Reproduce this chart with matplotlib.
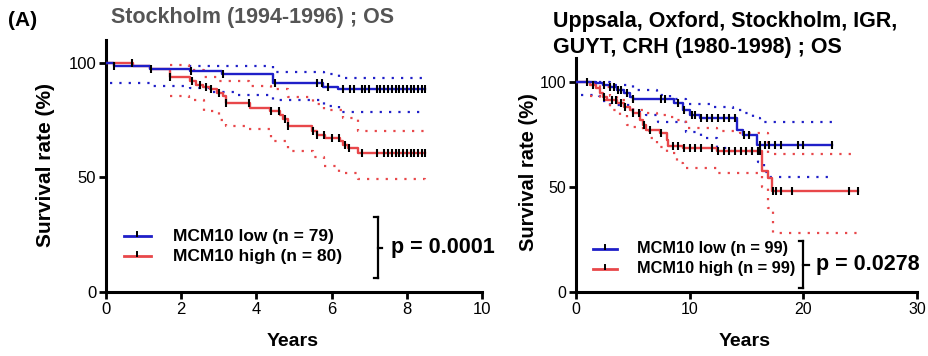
import numpy as np
import matplotlib
matplotlib.use("Agg")
import matplotlib.pyplot as plt
from matplotlib.lines import Line2D

plt.rcParams['font.family'] = ['Liberation Sans', 'DejaVu Sans']

# ---------------- Panel A: Stockholm (1994-1996) ----------------
A_low_t = [0, 0.2, 1.17, 2.23, 3.08, 4.45, 5.78, 6.18, 8.48]
A_low_s = [100, 98.7, 97.5, 96.3, 95.0, 91.3, 89.5, 88.4, 88.4]
A_high_t = [0, 0.73, 1.17, 1.7, 2.23, 2.4, 2.58, 2.77, 2.94, 3.12, 3.2, 3.83, 4.36,
            4.62, 4.72, 4.85, 5.47, 5.6, 5.82, 6.22, 6.3, 6.44, 6.7, 8.48]
A_high_s = [100, 98.7, 97.5, 93.7, 92.0, 90.5, 89.5, 88.4, 86.9, 85.4, 82.5, 80.3, 78.9,
            77.4, 75.3, 72.6, 70.2, 68.7, 67.2, 65.8, 64.3, 62.9, 60.7, 60.7]
A_low_up_t = [2.2, 4.45, 5.8, 6.2, 8.48]
A_low_up_s = [98.5, 96.0, 95.0, 93.6, 93.6]
A_low_lo_t = [0.1, 1.17, 2.23, 2.8, 3.5, 4.45, 5.8, 6.2, 8.48]
A_low_lo_s = [91.3, 90.1, 89.0, 87.5, 86.0, 84.0, 81.4, 78.5, 78.5]
A_high_up_t = [1.7, 2.2, 2.6, 3.0, 3.8, 4.4, 4.85, 5.5, 5.8, 6.3, 6.7, 8.48]
A_high_up_s = [99.0, 97.0, 94.0, 92.0, 90.0, 88.5, 85.0, 82.0, 79.5, 76.0, 70.3, 70.3]
A_high_lo_t = [1.7, 2.2, 2.6, 3.0, 3.2, 3.8, 4.4, 4.85, 5.5, 5.8, 6.2, 6.7, 8.48]
A_high_lo_s = [85.4, 84.0, 79.0, 75.0, 72.6, 71.0, 66.0, 61.4, 59.0, 55.0, 52.0, 49.3, 47.9]
A_low_cens = [0.2, 1.2, 2.25, 3.1, 4.5, 5.6, 5.75, 5.9, 6.3, 6.5, 6.6, 6.8, 6.9, 7.0,
              7.2, 7.3, 7.4, 7.5, 7.6, 7.7, 7.8, 7.9, 8.0, 8.1, 8.2, 8.3, 8.4, 8.48]
A_high_cens = [0.7, 1.7, 2.3, 2.5, 2.65, 2.8, 3.0, 3.2, 3.8, 4.4, 4.6, 4.75, 4.85, 5.5,
               5.6, 5.8, 6.0, 6.2, 6.35, 6.45, 6.8, 7.2, 7.4, 7.5, 7.6, 7.7, 7.8, 7.9,
               8.0, 8.1, 8.2, 8.3, 8.4, 8.48]

# ---------------- Panel B: pooled cohorts (1980-1998) ----------------
B_low_t = [0, 0.9, 1.8, 2.4, 3.0, 3.6, 4.2, 4.75, 5.0, 8.6, 9.45, 10.0, 10.9, 14.2, 14.7, 15.9, 22.5]
B_low_s = [100, 99.7, 99.2, 98.4, 97.3, 96.0, 94.5, 92.9, 91.6, 89.7, 86.5, 84.2, 82.6, 77.0, 74.7, 69.9, 69.9]
B_high_t = [0, 1.2, 1.8, 2.1, 2.4, 2.7, 3.6, 4.2, 4.75, 5.0, 5.6, 5.9, 6.2, 7.4, 8.0, 8.1,
            9.45, 12.4, 16.4, 16.9, 17.2, 24.8]
B_high_s = [100, 98.4, 96.8, 94.5, 92.9, 91.3, 89.7, 88.1, 86.5, 85.0, 81.8, 79.4, 77.0, 75.5,
            72.3, 69.6, 68.4, 66.8, 57.5, 54.0, 48.1, 48.1]
B_low_up_t = [2.0, 3.0, 5.0, 7.1, 8.3, 9.7, 12.1, 13.8, 14.7, 15.6, 16.2, 22.5]
B_low_up_s = [100, 98.4, 96.0, 93.7, 91.6, 89.2, 88.0, 86.6, 85.0, 82.6, 81.0, 81.0]
B_low_lo_t = [0.4, 2.0, 2.3, 3.0, 5.0, 6.2, 7.2, 9.7, 11.0, 12.4, 13.6, 15.6, 16.0, 16.5, 16.9, 22.5]
B_low_lo_s = [93.5, 93.0, 91.0, 89.0, 85.5, 84.0, 81.0, 76.0, 73.0, 68.5, 67.0, 67.0, 62.0, 57.0, 54.8, 54.8]
B_high_up_t = [1.5, 2.1, 3.0, 3.6, 5.0, 5.9, 7.1, 8.0, 8.6, 9.7, 12.4, 14.4, 16.5, 16.9, 24.8]
B_high_up_s = [99.2, 97.6, 93.0, 91.3, 86.5, 85.0, 84.2, 83.4, 81.8, 77.8, 76.3, 75.5, 75.5, 65.7, 65.7]
B_high_lo_t = [1.2, 2.1, 3.0, 3.9, 4.5, 5.0, 5.9, 6.5, 7.1, 8.0, 8.9, 9.45, 12.4, 16.4, 16.9, 17.3, 24.8]
B_high_lo_s = [93.0, 91.3, 86.5, 84.2, 79.4, 78.6, 76.3, 73.0, 69.0, 66.0, 61.4, 59.0, 56.5, 50.0, 40.0, 28.0, 28.0]
B_low_cens = [1.0, 2.5, 3.0, 3.3, 3.7, 4.0, 4.5, 5.0, 7.5, 7.8, 9.0, 9.5, 10.2, 10.5, 11.0,
              11.5, 12.0, 12.5, 13.0, 13.5, 14.0, 14.8, 15.2, 16.2, 16.6, 17.0, 17.5, 18.0,
              19.5, 20.0, 22.5]
B_high_cens = [1.5, 2.5, 3.2, 3.5, 4.0, 4.3, 5.0, 5.5, 6.0, 6.5, 7.5, 8.5, 9.0, 9.5, 10.0,
               10.5, 11.0, 12.0, 12.5, 13.0, 13.5, 14.0, 14.5, 15.0, 15.5, 16.0, 16.2, 17.3,
               17.6, 18.0, 19.0, 24.0, 24.8]

A_labels = ["MCM10 low (n = 79)", "MCM10 high (n = 80)"]
B_labels = ["MCM10 low (n = 99)", "MCM10 high (n = 99)"]
A_p = "p = 0.0001"
B_p = "p = 0.0278"

BLUE = "#1f1fc8"
RED = "#e8474a"
W, H = 929, 356

fig = plt.figure(figsize=(W / 100, H / 100), dpi=100)


def px_ax(x0, y0, x1, y1):
    return [x0 / W, 1 - y1 / H, (x1 - x0) / W, (y1 - y0) / H]


def step_val(t, s, x):
    idx = np.searchsorted(np.asarray(t), x, side='right') - 1
    idx = np.clip(idx, 0, len(s) - 1)
    return np.asarray(s)[idx]


def draw_panel(ax, low, high, low_ci, high_ci, low_c, high_c, xmax, xt, ymax, tsize):
    for (t, s) in low_ci:
        ax.step(t, s, where='post', color=BLUE, lw=1.6, ls=(0, (1, 3.2)), zorder=2)
    for (t, s) in high_ci:
        ax.step(t, s, where='post', color=RED, lw=1.6, ls=(0, (1, 3.2)), zorder=2)
    ax.step(high[0], high[1], where='post', color=RED, lw=1.7, zorder=3)
    ax.step(low[0], low[1], where='post', color=BLUE, lw=1.7, zorder=3)
    ax.plot(high_c, step_val(high[0], high[1], high_c), ls='none', marker='|',
            color='black', ms=6, mew=1.5, zorder=4)
    ax.plot(low_c, step_val(low[0], low[1], low_c), ls='none', marker='|',
            color='black', ms=6, mew=1.5, zorder=4)
    ax.set_xlim(0, xmax)
    ax.set_ylim(0, ymax)
    ax.set_xticks(xt)
    ax.set_yticks([0, 50, 100])
    for sp in ['top', 'right']:
        ax.spines[sp].set_visible(False)
    for sp in ['left', 'bottom']:
        ax.spines[sp].set_linewidth(2.2)
    ax.tick_params(direction='out', length=5, width=2, labelsize=tsize, pad=2)


axA = fig.add_axes(px_ax(106, 40, 482, 292))
draw_panel(axA, (A_low_t, A_low_s), (A_high_t, A_high_s),
           [(A_low_up_t, A_low_up_s), (A_low_lo_t, A_low_lo_s)],
           [(A_high_up_t, A_high_up_s), (A_high_lo_t, A_high_lo_s)],
           A_low_cens, A_high_cens, 10, [0, 2, 4, 6, 8, 10], 110, 12)

axB = fig.add_axes(px_ax(576, 58, 917, 292))
draw_panel(axB, (B_low_t, B_low_s), (B_high_t, B_high_s),
           [(B_low_up_t, B_low_up_s), (B_low_lo_t, B_low_lo_s)],
           [(B_high_up_t, B_high_up_s), (B_high_lo_t, B_high_lo_s)],
           B_low_cens, B_high_cens, 30, [0, 10, 20, 30], 111.2, 11.5)


def legend(labels, hx0, hx1, tx, y1, y2, size):
    for lab, col, y in zip(labels, [BLUE, RED], [y1, y2]):
        fig.add_artist(Line2D([hx0 / W, hx1 / W], [1 - y / H, 1 - y / H], color=col, lw=2))
        fig.add_artist(Line2D([(hx0 + hx1) / 2 / W] * 2, [1 - (y - 4) / H, 1 - y / H],
                              color='black', lw=1.4))
        fig.text(tx / W, 1 - y / H, lab, fontsize=size, fontweight='bold',
                 ha='left', va='center')


def bracket(x, y0, y1, stub_l, stub_r, ptext, px, size):
    lw = 1.6
    fig.add_artist(Line2D([x / W, x / W], [1 - y0 / H, 1 - y1 / H], color='black', lw=lw))
    for y in (y0, y1):
        fig.add_artist(Line2D([(x - stub_l) / W, x / W], [1 - y / H, 1 - y / H], color='black', lw=lw))
    ym = (y0 + y1) / 2
    fig.add_artist(Line2D([x / W, (x + stub_r) / W], [1 - ym / H, 1 - ym / H], color='black', lw=lw))
    fig.text(px / W, 1 - ym / H, ptext, fontsize=size, fontweight='bold', ha='left', va='center')


legend(A_labels, 124, 151, 173, 236, 256, 12.5)
bracket(378, 217, 278, 4, 4, A_p, 391, 15.5)
legend(B_labels, 593, 617, 637, 249, 269, 11.8)
bracket(803, 241, 288, 4, 6, B_p, 816, 15.5)

# titles and labels
fig.text(8 / W, 1 - 21 / H, "(A)", fontsize=15, fontweight='bold', ha='left', va='center')
fig.text(253 / W, 1 - 18 / H, "Stockholm (1994-1996) ; OS", fontsize=15.5,
         fontweight='bold', color='#555555', ha='center', va='center')
fig.text(553 / W, 1 - 22 / H, "Uppsala, Oxford, Stockholm, IGR,", fontsize=15.5,
         fontweight='bold', ha='left', va='center')
fig.text(553 / W, 1 - 47 / H, "GUYT, CRH (1980-1998) ; OS", fontsize=15.5,
         fontweight='bold', ha='left', va='center')
fig.text(46 / W, 1 - 165 / H, "Survival rate (%)", fontsize=15, fontweight='bold',
         rotation=90, ha='center', va='center')
fig.text(528 / W, 1 - 172 / H, "Survival rate (%)", fontsize=14.5, fontweight='bold',
         rotation=90, ha='center', va='center')
fig.text(293 / W, 1 - 342 / H, "Years", fontsize=14, fontweight='bold', ha='center', va='center')
fig.text(745 / W, 1 - 342 / H, "Years", fontsize=14, fontweight='bold', ha='center', va='center')

fig.savefig("out.png", dpi=100)
